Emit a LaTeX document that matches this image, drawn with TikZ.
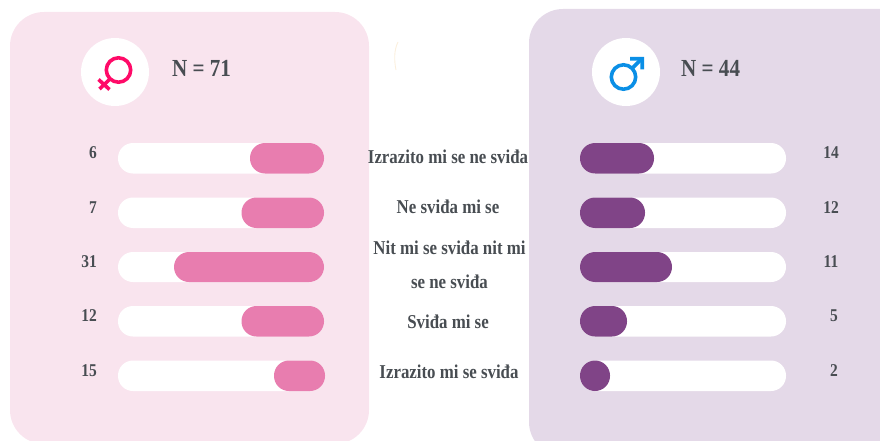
\documentclass[tikz,border=0pt]{standalone}
\usepackage{fontspec}
\setmainfont{Liberation Serif}[FakeStretch=0.86]
\definecolor{pinkpanel}{HTML}{F9E4EE}
\definecolor{lilacpanel}{HTML}{E4D9E8}
\definecolor{pinkbar}{HTML}{E87DAF}
\definecolor{purplebar}{HTML}{804487}
\definecolor{inktext}{HTML}{484D52}
\definecolor{femalesym}{HTML}{FF0A68}
\definecolor{malesym}{HTML}{0A8FE6}
\definecolor{creamarc}{HTML}{FBEFDD}
\tikzset{
  x=1pt,y=-1pt,
  panel/.style={rounded corners=34pt},
  trackbar/.style={fill=white,rounded corners=15pt},
  fillpink/.style={fill=pinkbar,rounded corners=15pt},
  fillpurple/.style={fill=purplebar,rounded corners=15pt},
  count/.style={font=\bfseries\fontsize{18}{20}\selectfont,text=inktext,inner sep=0pt,anchor=center},
  heading/.style={font=\bfseries\fontsize{24.5}{28}\selectfont,text=inktext,inner sep=0pt,anchor=west},
  cat/.style={font=\bfseries\fontsize{19.6}{34}\selectfont,text=inktext,inner sep=0pt,align=center,anchor=center},
  badge/.style={circle,fill=white,minimum size=68pt,inner sep=0pt}
}
\begin{document}
\begin{tikzpicture}
\useasboundingbox (0,0) rectangle (880,441);
\begin{scope}
\clip (0,0) rectangle (880,441);
\fill[pinkpanel,panel] (10,12) rectangle (369,444);
\fill[lilacpanel,panel] (529,9) rectangle (920,456);
\end{scope}
\draw[creamarc,line width=0.9pt] (398,42) .. controls (394,50) and (394,60) .. (396,70);
\node[badge] (fbadge) at (115,72) {};
\node[badge] (mbadge) at (626,72) {};
% female symbol
\draw[femalesym,line width=3.6pt] (118.5,70) circle (12.2);
\draw[femalesym,line width=3.6pt] (110,79) -- (99.5,89) (98.5,79.5) -- (109.5,89.5);
% male symbol
\draw[malesym,line width=3.6pt] (623.5,77) circle (12.2);
\draw[malesym,line width=3.6pt] (632,68.5) -- (642,58.5);
\fill[malesym] (630,57) -- (644,57) -- (644,69.5) -- (640.4,69.5) -- (640.4,60.6) -- (630,60.6) -- cycle;
\node[heading] (nf) at (172,68) {N = 71};
\node[heading] (nm) at (681,68) {N = 44};
% tracks and fills
\foreach \t/\b/\fl/\flr/\fr [count=\i] in {143/173.5/250/324/654,197.5/228/241.5/324/645,252/282/174/324/672,306/336.5/241.5/324/627,360.5/391/274/325/610}{
  \fill[trackbar] (118,\t) rectangle (324,\b);
  \fill[fillpink] (\fl,\t) rectangle (\flr,\b);
  \fill[trackbar] (580,\t) rectangle (786,\b);
  \fill[fillpurple] (580,\t) rectangle (\fr,\b);
}
\node[count] (f1) at (93,153) {6};
\node[count] (f2) at (93,207.5) {7};
\node[count] (f3) at (89,262) {31};
\node[count] (f4) at (89,316) {12};
\node[count] (f5) at (89,370.5) {15};
\node[count] (m1) at (831,153) {14};
\node[count] (m2) at (831,207.5) {12};
\node[count] (m3) at (831,262) {11};
\node[count] (m4) at (834,316) {5};
\node[count] (m5) at (834,370.5) {2};
\node[cat] (c1) at (448,157) {Izrazito mi se ne sviđa};
\node[cat] (c2) at (448,207) {Ne sviđa mi se};
\node[cat] (c3) at (449.5,265) {Nit mi se sviđa nit mi\\se ne sviđa};
\node[cat] (c4) at (448,322) {Sviđa mi se};
\node[cat] (c5) at (449,372) {Izrazito mi se sviđa};
\end{tikzpicture}
\end{document}
